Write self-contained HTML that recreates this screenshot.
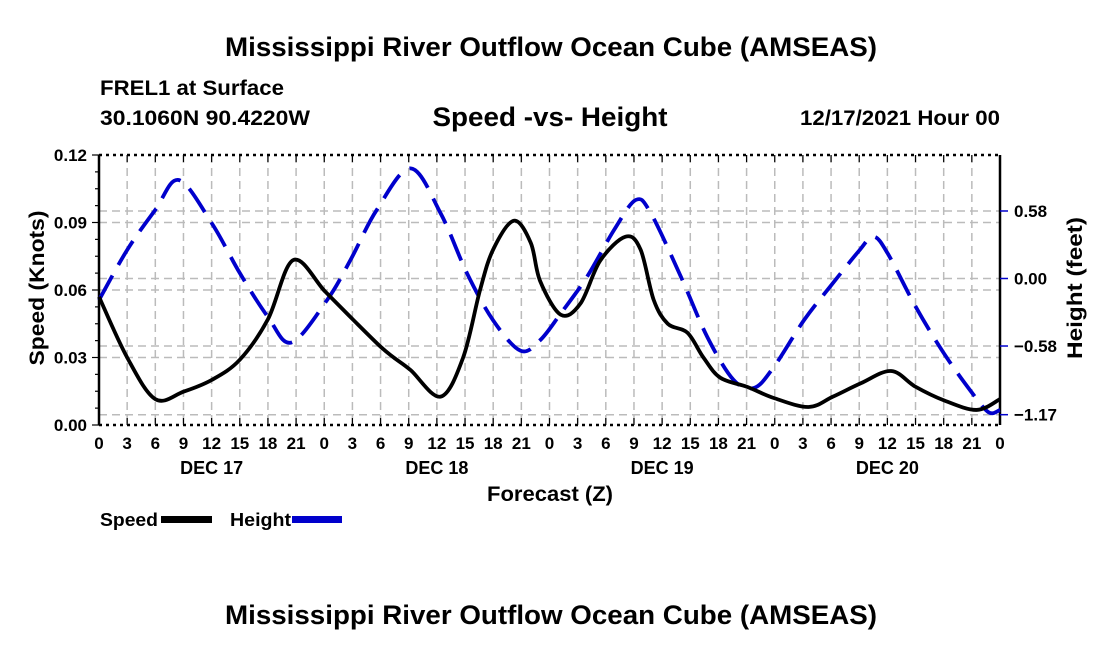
<!DOCTYPE html>
<html><head><meta charset="utf-8"><style>
body{margin:0;background:#fff;width:1100px;height:650px;overflow:hidden;font-family:"Liberation Sans",sans-serif}
svg text{font-family:"Liberation Sans",sans-serif;font-weight:bold}
</style></head><body>
<svg id="c" width="1100" height="650">
<text x="551" y="56" text-anchor="middle" font-size="27" textLength="652" lengthAdjust="spacingAndGlyphs">Mississippi River Outflow Ocean Cube (AMSEAS)</text>
<text x="100" y="95" font-size="21" textLength="184" lengthAdjust="spacingAndGlyphs">FREL1 at Surface</text>
<text x="100" y="125" font-size="21" textLength="210" lengthAdjust="spacingAndGlyphs">30.1060N  90.4220W</text>
<text x="550" y="126" text-anchor="middle" font-size="27" textLength="235" lengthAdjust="spacingAndGlyphs">Speed -vs- Height</text>
<text x="1000" y="125" text-anchor="end" font-size="21" textLength="200" lengthAdjust="spacingAndGlyphs">12/17/2021 Hour 00</text>
<text x="551" y="624" text-anchor="middle" font-size="27" textLength="652" lengthAdjust="spacingAndGlyphs">Mississippi River Outflow Ocean Cube (AMSEAS)</text>
<g id="grid"></g><g id="axes"></g><g id="series"></g>
<text x="550" y="501" text-anchor="middle" font-size="21" textLength="126" lengthAdjust="spacingAndGlyphs">Forecast (Z)</text>
<text transform="translate(44,288) rotate(-90)" text-anchor="middle" font-size="21" textLength="155" lengthAdjust="spacingAndGlyphs">Speed (Knots)</text>
<text transform="translate(1082,288) rotate(-90)" text-anchor="middle" font-size="21" textLength="142" lengthAdjust="spacingAndGlyphs">Height (feet)</text>
<g>
<text x="100" y="526" font-size="18" textLength="58" lengthAdjust="spacingAndGlyphs">Speed</text>
<rect x="161" y="516" width="51" height="7" fill="#000"/>
<text x="230" y="526" font-size="18" textLength="61" lengthAdjust="spacingAndGlyphs">Height</text>
<rect x="292" y="516" width="50" height="7" fill="#0000cc"/>
</g>
</svg>
<script>
const speedHours=[0,3,6,9,12,15,18,20.7,24.1,27.1,30,31.4,33.2,36.4,38.8,40.6,42,44.2,46,47,49.2,51.3,53.4,56.1,57.7,59.1,60.6,62.7,64.4,66.2,69.1,71.9,75.6,78.2,81.2,84.4,87,90,93.5,96];
const speedValues=[0.057,0.030,0.0115,0.0148,0.020,0.029,0.047,0.0733,0.0593,0.0467,0.0348,0.030,0.0244,0.0126,0.030,0.060,0.078,0.0908,0.081,0.064,0.049,0.054,0.073,0.0837,0.078,0.0556,0.045,0.041,0.030,0.021,0.0169,0.012,0.008,0.0126,0.0186,0.024,0.017,0.011,0.0067,0.0115];
const heightHours=[0,3,6,8.5,12,15,18,20.5,24.3,26.8,29.6,33.2,36.4,39.2,42,44.9,47,49.2,52,54.9,57.2,58.8,62,64.8,67.6,69.8,71.9,75.1,78,81,82.5,84,87,90,93,94.8,96];
const heightValues=[-0.185,0.245,0.59,0.846,0.477,0.047,-0.33,-0.55,-0.185,0.16,0.59,0.946,0.56,0.047,-0.36,-0.62,-0.53,-0.30,0.015,0.42,0.675,0.56,0.015,-0.50,-0.87,-0.94,-0.76,-0.36,-0.06,0.24,0.36,0.22,-0.24,-0.64,-0.98,-1.15,-1.13];
const speedTicks=[0,0.03,0.06,0.09,0.12];
const heightTicks=[0.58,0,-0.58,-1.17];
const hourLabels=["0","3","6","9","12","15","18","21"];
const dayLabels=["DEC 17","DEC 18","DEC 19","DEC 20"];
const NS="http://www.w3.org/2000/svg";
const X0=99,X1=1000,YT=155,YB=425;
const xs=h=>X0+h*(X1-X0)/96;
const ys=v=>YB-v*(YB-YT)/0.12;
const yh=v=>278.5-v*116.4;
function mk(tag,attrs,parent){const e=document.createElementNS(NS,tag);for(const k in attrs)e.setAttribute(k,attrs[k]);parent.appendChild(e);return e;}
const grid=document.getElementById('grid'),axes=document.getElementById('axes'),ser=document.getElementById('series');
for(let h=3;h<96;h+=3){const l=mk('line',{x1:xs(h),x2:xs(h),y1:YT,y2:YB,stroke:'#bbb','stroke-width':1.5,'stroke-dasharray':'8,5'},grid);
}
speedTicks.slice(1,4).forEach(v=>{const l=mk('line',{x1:X0,x2:X1,y1:ys(v),y2:ys(v),stroke:'#bbb','stroke-width':1.5,'stroke-dasharray':'8,5'},grid);
});
heightTicks.forEach(v=>{const l=mk('line',{x1:X0,x2:X1,y1:yh(v),y2:yh(v),stroke:'#bbb','stroke-width':1.5,'stroke-dasharray':'8,5'},grid);
});
[[X0,YT,X1,YT],[X0,YB,X1,YB]].forEach(a=>{const l=mk('line',{x1:a[0],y1:a[1],x2:a[2],y2:a[3],stroke:'#000','stroke-width':2.5,'stroke-dasharray':'3,4'},axes);
});
const la=mk('line',{x1:X0,y1:YT,x2:X0,y2:YB,stroke:'#000','stroke-width':2.5},axes);

const ra=mk('line',{x1:X1,y1:YT,x2:X1,y2:YB,stroke:'#000','stroke-width':2.5},axes);

for(let h=0;h<=96;h+=3){const x=xs(h);mk('line',{x1:x,x2:x,y1:YB,y2:YB-7,stroke:'#000','stroke-width':1.2},axes);mk('line',{x1:x,x2:x,y1:YT,y2:YT+7,stroke:'#000','stroke-width':1.2},axes);
const t=mk('text',{x:x,y:YB+24,'text-anchor':'middle','font-size':17},axes);t.textContent=h===96?'0':hourLabels[(h/3)%8];
}
dayLabels.forEach((d,i)=>{const t=mk('text',{x:xs(i*24+12),y:YB+49,'text-anchor':'middle','font-size':18},axes);t.textContent=d;
});
for(let k=0;k<=16;k++){const v=k*0.0075;mk('line',{x1:X0,x2:X0-(k%4===0?7:4),y1:ys(v),y2:ys(v),stroke:'#000','stroke-width':1.2},axes);}
speedTicks.forEach(v=>{const t=mk('text',{x:X0-12,y:ys(v)+6,'text-anchor':'end','font-size':17},axes);t.textContent=v.toFixed(2);
});
heightTicks.forEach(v=>{mk('line',{x1:X1,x2:X1+8,y1:yh(v),y2:yh(v),stroke:'#0000cc','stroke-width':1.5},axes);
const t=mk('text',{x:X1+14,y:yh(v)+6,'font-size':17},axes);t.textContent=(v<0?'\u2212':'')+Math.abs(v).toFixed(2);
});
function smooth(pts){let d='M'+pts[0][0]+','+pts[0][1];for(let i=0;i<pts.length-1;i++){const p0=pts[Math.max(0,i-1)],p1=pts[i],p2=pts[i+1],p3=pts[Math.min(pts.length-1,i+2)];
d+=' C'+(p1[0]+(p2[0]-p0[0])/6)+','+(p1[1]+(p2[1]-p0[1])/6)+' '+(p2[0]-(p3[0]-p1[0])/6)+','+(p2[1]-(p3[1]-p1[1])/6)+' '+p2[0]+','+p2[1];}return d;}
const hp=mk('path',{d:smooth(heightHours.map((h,i)=>[xs(h),yh(heightValues[i])])),fill:'none',stroke:'#0000cc','stroke-width':3.8,'stroke-dasharray':'28,12'},ser);

const sp=mk('path',{d:smooth(speedHours.map((h,i)=>[xs(h),ys(speedValues[i])])),fill:'none',stroke:'#000','stroke-width':3.8},ser);

</script>
</body></html>
